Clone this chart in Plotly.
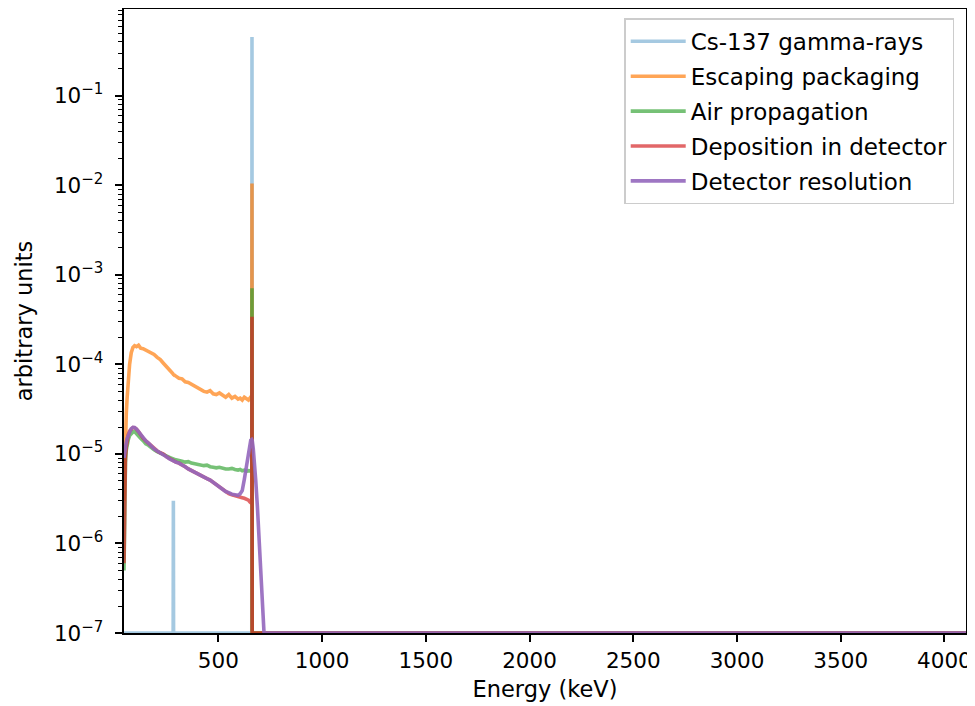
import numpy as np
import plotly.graph_objects as go

# ---------------- data ----------------
energy_kev = [45, 48, 52, 56, 60, 66, 72, 80, 88, 96, 105, 115, 125, 137, 150, 163, 177, 190,
              205, 220, 235, 250, 265, 280, 282, 283, 284, 295, 310, 325, 340, 355, 370, 385,
              400, 415, 430, 445, 460, 475, 490, 505, 520, 535, 550, 565, 580, 595, 605, 615,
              625, 635, 645, 652, 656, 661, 662, 663, 668, 674, 680, 688, 695, 702, 710, 716,
              720, 724, 4104]

cs137_gamma = [0] * 25 + [3.0e-6] + [0] * 30 + [0.455] + [0] * 12

escaping_packaging = [3e-6, 8e-6, 1.5e-5, 2.8e-5, 4.2e-5, 7.0e-5, 1.0e-4, 1.35e-4, 1.55e-4, 1.62e-4,
                      1.58e-4, 1.64e-4, 1.52e-4, 1.5e-4, 1.44e-4, 1.41e-4, 1.35e-4, 1.29e-4,
                      1.2e-4, 1.13e-4, 1.03e-4, 9.4e-5, 8.5e-5, 8.0e-5, 7.8e-5, 7.9e-5, 7.7e-5,
                      7.4e-5, 7.0e-5, 6.9e-5, 6.4e-5, 6.3e-5, 6.0e-5, 5.7e-5, 5.4e-5, 5.2e-5,
                      5.0e-5, 4.9e-5, 5.1e-5, 4.7e-5, 4.6e-5, 4.8e-5, 4.5e-5, 4.3e-5, 4.6e-5,
                      4.2e-5, 4.4e-5, 4.1e-5, 4.2e-5, 4.0e-5, 4.3e-5, 4.1e-5, 4.0e-5, 4.2e-5,
                      4.1e-5, 4.2e-5, 1.05e-2, 0, 0, 0, 0, 0, 0, 0, 0, 0, 0, 0, 0]

air_propagation = [5e-7, 3e-6, 8e-6, 1.1e-5, 1.3e-5, 1.45e-5, 1.6e-5, 1.7e-5, 1.76e-5, 1.78e-5,
                   1.7e-5, 1.63e-5, 1.5e-5, 1.41e-5, 1.3e-5, 1.25e-5, 1.16e-5, 1.11e-5,
                   1.06e-5, 1.02e-5, 9.9e-6, 9.4e-6, 9.1e-6, 8.8e-6, 8.9e-6, 8.7e-6, 8.8e-6,
                   8.6e-6, 8.5e-6, 8.3e-6, 8.1e-6, 8.2e-6, 7.9e-6, 7.8e-6, 7.7e-6, 7.5e-6,
                   7.4e-6, 7.5e-6, 7.2e-6, 7.1e-6, 7.0e-6, 7.1e-6, 6.9e-6, 6.8e-6, 6.8e-6,
                   6.9e-6, 6.7e-6, 6.6e-6, 6.7e-6, 6.5e-6, 6.6e-6, 6.4e-6, 6.5e-6, 6.4e-6,
                   6.5e-6, 6.4e-6, 7.1e-4, 0, 0, 0, 0, 0, 0, 0, 0, 0, 0, 0, 0]

deposition_in_detector = [6e-7, 4e-6, 9e-6, 1.2e-5, 1.45e-5, 1.65e-5, 1.8e-5, 1.92e-5, 1.97e-5,
                          1.96e-5, 1.9e-5, 1.78e-5, 1.64e-5, 1.5e-5, 1.4e-5, 1.32e-5, 1.22e-5,
                          1.14e-5, 1.08e-5, 1.03e-5, 1.0e-5, 9.3e-6, 8.8e-6, 8.4e-6, 8.4e-6,
                          8.3e-6, 8.3e-6, 8.1e-6, 7.9e-6, 7.6e-6, 7.2e-6, 6.8e-6, 6.5e-6, 6.2e-6,
                          6.0e-6, 5.8e-6, 5.5e-6, 5.3e-6, 5.1e-6, 4.8e-6, 4.5e-6, 4.2e-6, 4.0e-6,
                          3.8e-6, 3.6e-6, 3.5e-6, 3.4e-6, 3.35e-6, 3.3e-6, 3.25e-6, 3.2e-6,
                          3.1e-6, 3.05e-6, 2.9e-6, 2.85e-6, 2.8e-6, 3.4e-4, 0, 0, 0, 0, 0, 0, 0,
                          0, 0, 0, 0, 0]

detector_resolution = [9e-6, 1.05e-5, 1.2e-5, 1.35e-5, 1.5e-5, 1.65e-5, 1.8e-5, 1.92e-5, 1.98e-5,
                       1.97e-5, 1.9e-5, 1.78e-5, 1.65e-5, 1.5e-5, 1.4e-5, 1.32e-5, 1.22e-5,
                       1.14e-5, 1.08e-5, 1.03e-5, 1.0e-5, 9.3e-6, 8.8e-6, 8.4e-6, 8.4e-6,
                       8.3e-6, 8.3e-6, 8.1e-6, 7.9e-6, 7.6e-6, 7.2e-6, 6.8e-6, 6.5e-6, 6.2e-6,
                       6.0e-6, 5.8e-6, 5.5e-6, 5.3e-6, 5.1e-6, 4.8e-6, 4.5e-6, 4.2e-6, 4.0e-6,
                       3.8e-6, 3.7e-6, 3.55e-6, 3.5e-6, 3.45e-6, 3.6e-6, 3.9e-6, 5.2e-6,
                       7.3e-6, 1.0e-5, 1.3e-5, 1.42e-5, 1.45e-5, 1.44e-5, 1.42e-5, 1.15e-5,
                       8.0e-6, 5.1e-6, 2.6e-6, 1.2e-6, 6e-7, 2.8e-7, 1.4e-7, 1e-7, 0, 0]

series_names = ["Cs-137 gamma-rays", "Escaping packaging", "Air propagation",
                "Deposition in detector", "Detector resolution"]
series_values = [cs137_gamma, escaping_packaging, air_propagation,
                 deposition_in_detector, detector_resolution]
series_colors = ["rgba(31,119,180,0.4)", "rgba(255,127,14,0.7)", "rgba(44,160,44,0.65)",
                 "rgba(214,39,40,0.7)", "rgba(148,103,189,0.9)"]

x_tick_values = [500, 1000, 1500, 2000, 2500, 3000, 3500, 4000]
y_decades = [-7, -6, -5, -4, -3, -2, -1]

# ---------------- figure ----------------
FLOOR = 1e-7  # zero-valued bins are drawn at the bottom of the log axis

fig = go.Figure()
for name, vals, col in zip(series_names, series_values, series_colors):
    v = np.asarray(vals, dtype=float)
    v = np.where(v > 0, v, FLOOR)
    fig.add_trace(go.Scatter(x=energy_kev, y=v, mode="lines", name=name,
                             legendgroup=name,
                             line=dict(color=col, width=3.6)))

tick_font = dict(family="DejaVu Sans", size=21.5, color="black")
title_font = dict(family="DejaVu Sans", size=22.5, color="black")
legend_font = dict(family="DejaVu Sans", size=23, color="black")

y_major_vals = [10.0 ** d for d in y_decades]
y_major_text = ["10<sup>\u2212%d</sup>" % (-d) for d in y_decades]
y_minor_vals = [k * 10.0 ** d for d in y_decades for k in range(2, 10)]

# the page body adds an 8 px offset, so the figure is 8 px smaller and margins shifted
fig.update_layout(
    width=967, height=698,
    margin=dict(l=116, r=9, t=1, b=73),
    paper_bgcolor="white", plot_bgcolor="white",
    font=tick_font,
    showlegend=True,
    legend=dict(x=0.986, y=0.985, xanchor="right", yanchor="top",
                bgcolor="rgba(255,255,255,0.8)", bordercolor="#cccccc", borderwidth=1.5,
                font=legend_font, tracegroupgap=2, itemwidth=55),
    xaxis=dict(range=[45, 4104], tickvals=x_tick_values, automargin=False,
               showgrid=False, zeroline=False, tickfont=tick_font,
               showline=True, linecolor="black", linewidth=1.7, mirror=True,
               ticks="outside", ticklen=7.4, tickwidth=1.7, tickcolor="black",
               title=dict(text="Energy (keV)", font=title_font, standoff=9)),
    yaxis=dict(type="log", range=[-7, -0.03], automargin=False,
               tickvals=y_major_vals, ticktext=y_major_text, tickfont=tick_font,
               ticklabelstandoff=7,
               showgrid=False, zeroline=False,
               showline=True, linecolor="black", linewidth=1.7, mirror=True,
               ticks="outside", ticklen=7.4, tickwidth=1.7, tickcolor="black",
               minor=dict(tickvals=y_minor_vals, ticks="outside", ticklen=4.2,
                          tickwidth=1.3, tickcolor="black", showgrid=False),
               title=dict(text="arbitrary units", font=title_font, standoff=15)),
)

fig.write_html("out.html")
